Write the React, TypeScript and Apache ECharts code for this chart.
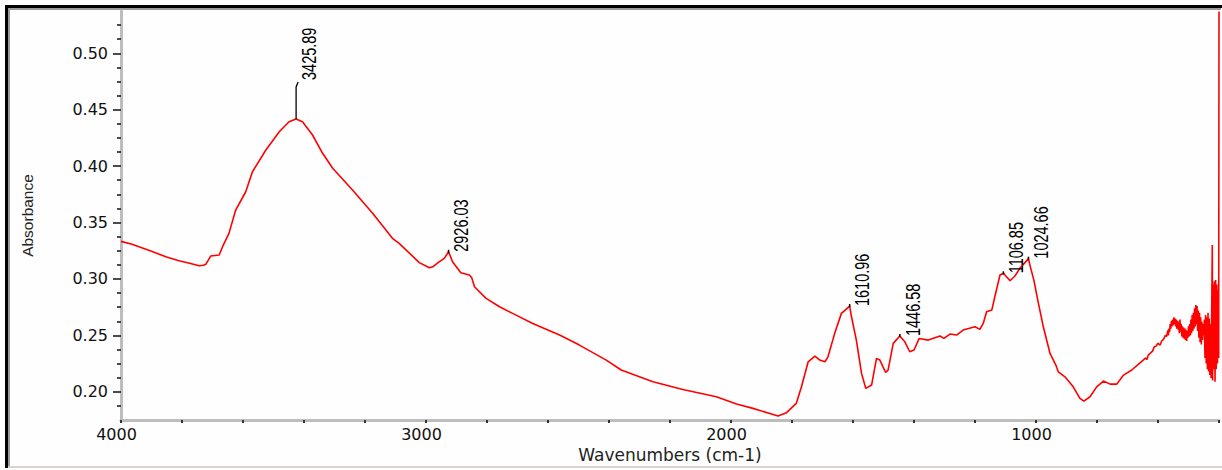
import React, { useEffect, useRef } from "react";
import * as echarts from "echarts";

// FTIR absorbance spectrum, wavenumber (cm-1) vs absorbance.
// Stretching region 4000–1800 cm-1
const stretchRegion: [number, number][] = [
  [4000, 0.3333], [3964, 0.3307], [3900, 0.3245], [3853, 0.3197], [3810, 0.3161],
  [3775, 0.3140], [3744, 0.3117], [3730, 0.3122], [3722, 0.3130], [3706, 0.3203],
  [3678, 0.3212], [3667, 0.3286], [3646, 0.3404], [3624, 0.3611], [3591, 0.3773],
  [3569, 0.3950], [3525, 0.4143], [3481, 0.4305], [3449, 0.4394], [3425.89, 0.4418],
  [3405, 0.4394], [3372, 0.4276], [3339, 0.4114], [3306, 0.3981], [3241, 0.3788],
  [3175, 0.3582], [3110, 0.3360], [3088, 0.3316], [3022, 0.3145], [2989, 0.3099],
  [2978, 0.3108], [2956, 0.3153], [2940, 0.3183], [2926.03, 0.3241], [2913, 0.3153],
  [2886, 0.3055], [2858, 0.3035], [2850, 0.3010], [2841, 0.2931], [2803, 0.2828],
  [2759, 0.2754], [2716, 0.2695], [2650, 0.2606], [2562, 0.2503], [2497, 0.2414],
  [2409, 0.2281], [2360, 0.2193], [2256, 0.2089], [2158, 0.2021], [2048, 0.1956],
  [1982, 0.1891], [1928, 0.1853], [1846, 0.1785],
];

// Fingerprint region 1820–660 cm-1
const fingerprintRegion: [number, number][] = [
  [1818, 0.1815], [1786, 0.1897], [1769, 0.2044], [1747, 0.2266], [1725, 0.2317],
  [1709, 0.2281], [1692, 0.2266], [1682, 0.2310], [1660, 0.2518], [1638, 0.2695],
  [1610.96, 0.2760], [1605, 0.2665], [1589, 0.2458], [1572, 0.2163], [1558, 0.2030],
  [1539, 0.2060], [1523, 0.2296], [1512, 0.2281], [1493, 0.2172], [1485, 0.2192],
  [1468, 0.2429], [1446.58, 0.2494], [1430, 0.2443], [1414, 0.2355], [1400, 0.2370],
  [1383, 0.2473], [1353, 0.2458], [1315, 0.2494], [1302, 0.2473], [1282, 0.2512],
  [1260, 0.2503], [1239, 0.2547], [1200, 0.2576], [1184, 0.2553], [1173, 0.2606],
  [1162, 0.2709], [1145, 0.2724], [1135, 0.2842], [1118, 0.3035], [1106.85, 0.3050],
  [1085, 0.2984], [1069, 0.3026], [1053, 0.3094], [1024.66, 0.3180], [1020, 0.3123],
  [1007, 0.2990], [992, 0.2784], [976, 0.2576], [954, 0.2340], [935, 0.2237],
  [927, 0.2177], [905, 0.2133], [878, 0.2044], [856, 0.1942], [843, 0.1918],
  [823, 0.1956], [801, 0.2044], [779, 0.2095], [757, 0.2068], [735, 0.2068],
  [713, 0.2148], [686, 0.2193], [659, 0.2257],
];

// Low-wavenumber edge 640–400 cm-1 (noisy detector edge)
const farEdgeRegion: [number, number][] = [
  [640, 0.2300], [636, 0.2285], [632, 0.2325], [626, 0.2340], [618, 0.2360],
  [612, 0.2400], [606, 0.2405], [600, 0.2430], [593, 0.2414], [588, 0.2450],
  [582, 0.2465], [576, 0.2500], [572, 0.2490], [570, 0.2510], [568, 0.2545],
  [566, 0.2500], [564, 0.2560], [562, 0.2530], [560, 0.2600], [558, 0.2560],
  [556, 0.2630], [554, 0.2580], [552, 0.2640], [550, 0.2590], [548, 0.2660],
  [546, 0.2600], [544, 0.2650], [542, 0.2580], [540, 0.2640], [538, 0.2560],
  [536, 0.2630], [534, 0.2550], [532, 0.2620], [530, 0.2520], [528, 0.2640],
  [526, 0.2530], [524, 0.2600], [522, 0.2490], [520, 0.2580], [518, 0.2480],
  [516, 0.2570], [514, 0.2470], [512, 0.2560], [510, 0.2460], [508, 0.2550],
  [506, 0.2450], [504, 0.2540], [502, 0.2480], [500, 0.2580], [498, 0.2490],
  [496, 0.2600], [494, 0.2500], [492, 0.2640], [490, 0.2520], [488, 0.2680],
  [486, 0.2540], [484, 0.2700], [482, 0.2560], [480, 0.2740], [478, 0.2580],
  [476, 0.2770], [474, 0.2600], [472, 0.2760], [470, 0.2540], [468, 0.2720],
  [466, 0.2480], [464, 0.2700], [462, 0.2440], [460, 0.2660], [458, 0.2420],
  [456, 0.2620], [454, 0.2460], [452, 0.2600], [450, 0.2500], [448, 0.2640],
  [446, 0.2300], [444, 0.2680], [442, 0.2250], [440, 0.2660], [438, 0.2200],
  [436, 0.2700], [434, 0.2180], [432, 0.2650], [430, 0.2150], [428, 0.2600],
  [426, 0.2120], [424, 0.2700], [422, 0.3300], [421, 0.2100], [419, 0.2950],
  [417, 0.2200], [415, 0.2980], [413, 0.2090], [411, 0.2990], [409, 0.2200],
  [407, 0.2950], [405, 0.2250], [403, 0.2900], [401, 0.2300], [400, 0.5370],
];

// Labelled peaks
const peakWavenumbers = [3425.89, 2926.03, 1610.96, 1446.58, 1106.85, 1024.66];
const peakAbsorbance = [0.4418, 0.3241, 0.2760, 0.2494, 0.3050, 0.3180];
const peakLabels = ["3425.89", "2926.03", "1610.96", "1446.58", "1106.85", "1024.66"];

// Axis ticks
const xLabelTicks = [1000, 2000, 3000, 4000];
const xMinorTicks = [
  400, 600, 800, 1000, 1200, 1400, 1600, 1800, 2000, 2200, 2400, 2600, 2800,
  3000, 3200, 3400, 3600, 3800, 4000,
];
const yLabelTicks = [0.2, 0.25, 0.3, 0.35, 0.4, 0.45, 0.5];
const yMinorTicks = [
  0.1875, 0.2125, 0.225, 0.2375, 0.2625, 0.275, 0.2875, 0.3125, 0.325, 0.3375,
  0.3625, 0.375, 0.3875, 0.4125, 0.425, 0.4375, 0.4625, 0.475, 0.4875, 0.5125,
  0.525,
];

// Vertical lift of each peak label above its peak (px); the first one uses a leader line
const labelLift = [39, 0, 0, 0, 0, 0];

const spectrum = [...stretchRegion, ...fingerprintRegion, ...farEdgeRegion];

export default function App() {
  const ref = useRef<HTMLDivElement>(null);

  useEffect(() => {
    document.body.style.margin = "0";
    if (!ref.current) return;
    const chart = echarts.init(ref.current, undefined, { renderer: "svg" });

    const tickFont = { fontFamily: "DejaVu Sans", fontSize: 16, color: "#111" };

    chart.setOption({
      animation: false,
      backgroundColor: "#fefefe",
      grid: { left: 121, right: 3, top: 11, bottom: 50 },
      xAxis: {
        type: "value",
        inverse: true,
        min: 400,
        max: 4000,
        name: "Wavenumbers (cm-1)",
        nameLocation: "middle",
        nameGap: 26,
        nameTextStyle: { fontFamily: "DejaVu Sans", fontSize: 17, color: "#222" },
        axisLine: { show: true, lineStyle: { color: "#bdbdbd", width: 3 } },
        axisTick: {
          show: true,
          customValues: xMinorTicks,
          length: 3,
          lineStyle: { color: "#333", width: 2 },
        },
        axisLabel: {
          customValues: xLabelTicks,
          margin: 6,
          padding: [0, 9, 0, 0],
          formatter: (v: number) => String(v),
          ...tickFont,
        },
        splitLine: { show: false },
      },
      yAxis: [
        {
          type: "value",
          min: 0.175,
          max: 0.5375,
          name: "Absorbance",
          nameLocation: "middle",
          nameRotate: 90,
          nameGap: 86,
          nameTextStyle: { fontFamily: "Liberation Sans", fontSize: 15.5, color: "#222" },
          axisLine: { show: true, lineStyle: { color: "#bdbdbd", width: 3 } },
          axisTick: {
            show: true,
            customValues: yLabelTicks,
            length: 8,
            lineStyle: { color: "#111", width: 1.5 },
          },
          axisLabel: {
            customValues: yLabelTicks,
            margin: 13,
            formatter: (v: number) => v.toFixed(2),
            ...tickFont,
          },
          splitLine: { show: false },
        },
        {
          type: "value",
          min: 0.175,
          max: 0.5375,
          position: "left",
          axisLine: { show: false },
          axisTick: {
            show: true,
            customValues: yMinorTicks,
            length: 4,
            lineStyle: { color: "#111", width: 1.5 },
          },
          axisLabel: { show: false },
          splitLine: { show: false },
        },
      ],
      series: [
        {
          type: "line",
          data: spectrum,
          symbol: "none",
          silent: true,
          lineStyle: { color: "#ff0000", width: 1.6 },
        },
        {
          type: "custom",
          data: peakWavenumbers.map((w, i) => [w, peakAbsorbance[i]]),
          encode: { x: 0, y: 1 },
          silent: true,
          z: 5,
          renderItem: (params: any, api: any) => {
            const i = params.dataIndex;
            const [px, py] = api.coord([api.value(0), api.value(1)]);
            const lift = labelLift[i];
            const children: any[] = [];
            if (lift > 0) {
              children.push({
                type: "polyline",
                shape: { points: [[px, py], [px, py - 32], [px + 2, py - 37]] },
                style: { stroke: "#000", lineWidth: 1.3, fill: null },
              });
            } else {
              children.push({
                type: "line",
                shape: { x1: px, y1: py + 1, x2: px, y2: py - 2 },
                style: { stroke: "#000", lineWidth: 1.5 },
              });
            }
            children.push({
              type: "text",
              x: px + 13,
              y: py - lift,
              rotation: Math.PI / 2,
              scaleY: 1.35,
              style: {
                text: peakLabels[i],
                fill: "#000",
                fontFamily: "Liberation Sans",
                fontSize: 14.5,
                align: "left",
                verticalAlign: "middle",
              },
            });
            return { type: "group", children };
          },
        },
      ],
      graphic: [
        { type: "rect", shape: { x: 5, y: 5, width: 1217, height: 3 }, style: { fill: "#000" } },
        { type: "rect", shape: { x: 8, y: 8, width: 1213, height: 2 }, style: { fill: "#9a9a9a" } },
        { type: "rect", shape: { x: 5, y: 5, width: 3, height: 463 }, style: { fill: "#000" } },
        { type: "rect", shape: { x: 8, y: 8, width: 2, height: 460 }, style: { fill: "#9a9a9a" } },
        { type: "rect", shape: { x: 8, y: 466, width: 1214, height: 2 }, style: { fill: "#d8d4cc" } },
      ],
    });

    return () => chart.dispose();
  }, []);

  return (
    <div
      ref={ref}
      style={{ position: "absolute", left: 0, top: 0, width: 1222, height: 470 }}
    />
  );
}
